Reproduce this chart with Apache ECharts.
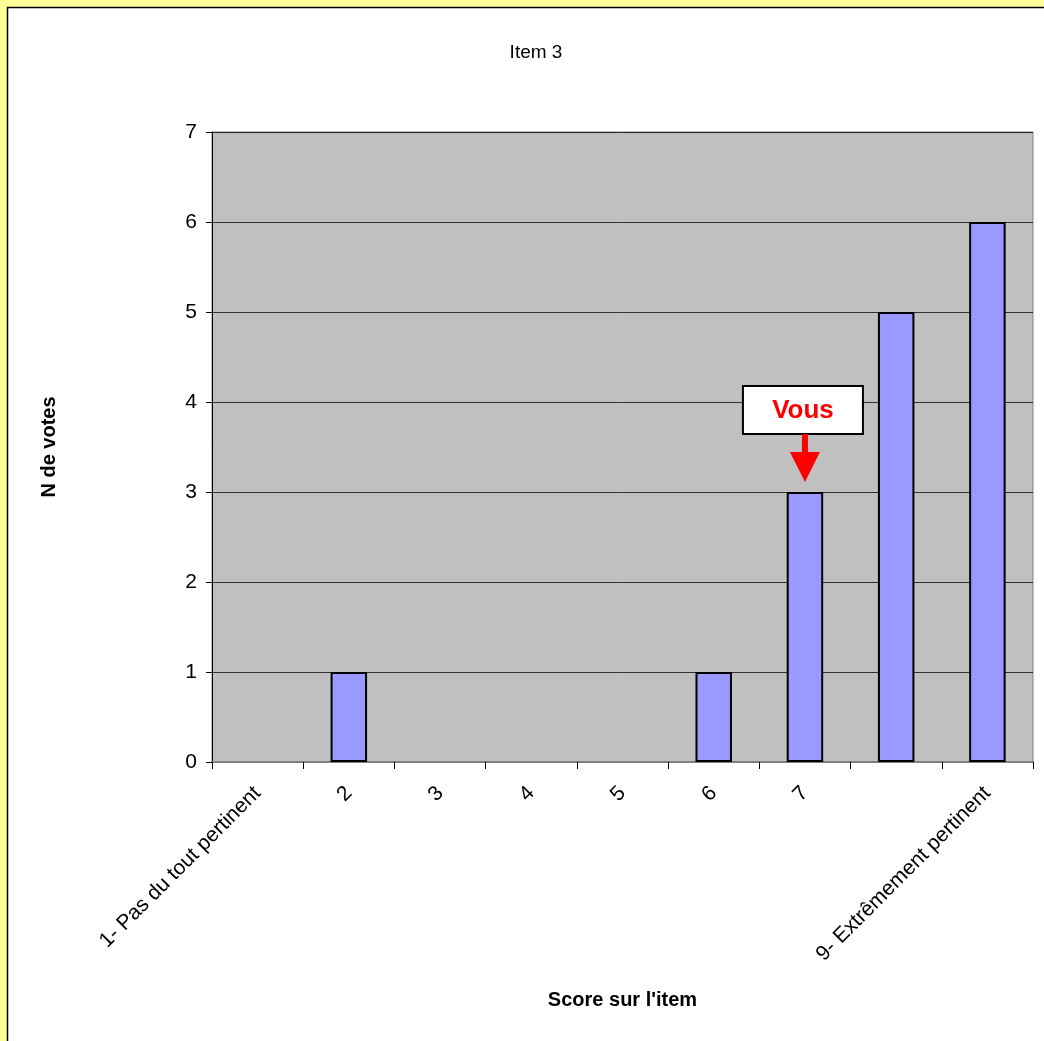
<!DOCTYPE html>
<html><head><meta charset="utf-8">
<script src="https://cdn.jsdelivr.net/npm/echarts@6/dist/echarts.min.js"></script>
<style>html,body{margin:0;padding:0;background:#FFFF99;}#c{width:1044px;height:1041px;}</style>
</head><body><div id="c"></div>
<script>
const categories = ["1- Pas du tout pertinent", "2", "3", "4", "5", "6", "7", "", "9- Extrêmement pertinent"];
const votes = [0, 1, 0, 0, 0, 1, 3, 5, 6];
const yTicks = [0, 1, 2, 3, 4, 5, 6, 7];
const youIndex = 6;
const chartTitle = "Item 3";
const yName = "N de votes";
const xName = "Score sur l'item";
const youLabel = "Vous";

const chart = echarts.init(document.getElementById('c'));
const font = '"Liberation Sans", Arial, sans-serif';
const frame = {
  type: 'rect', z: -10, silent: true,
  shape: { x: 7.5, y: 7.5, width: 1100, height: 1100 },
  style: { fill: '#ffffff', stroke: '#000000', lineWidth: 1.5 }
};
chart.setOption({
  backgroundColor: '#FFFF99',
  animation: false,
  textStyle: { fontFamily: font },
  graphic: [frame],
  title: {
    text: chartTitle, left: 531, top: 38, textAlign: 'center',
    textStyle: { fontFamily: font, fontSize: 19, fontWeight: 'normal', color: '#000' }
  },
  grid: { left: 212, right: 11, top: 132, bottom: 279, containLabel: false,
          show: true, backgroundColor: '#C0C0C0', borderColor: '#808080', borderWidth: 1 },
  xAxis: {
    type: 'category', data: categories,
    name: xName, nameLocation: 'middle', nameGap: 228,
    nameTextStyle: { fontFamily: font, fontSize: 20, fontWeight: 'bold', color: '#000' },
    axisLine: { lineStyle: { color: '#808080', width: 2 } },
    axisTick: { show: true, length: 7, lineStyle: { color: '#000' } },
    axisLabel: { rotate: 45, margin: 28, fontFamily: font, fontSize: 21, color: '#000', interval: 0 }
  },
  yAxis: {
    type: 'value', min: 0, max: 7, interval: 1,
    name: yName, nameLocation: 'middle', nameGap: 153, nameRotate: 90,
    nameTextStyle: { fontFamily: font, fontSize: 20, fontWeight: 'bold', color: '#000' },
    axisLine: { show: true, lineStyle: { color: '#000', width: 1 } },
    axisTick: { show: true, length: 6, lineStyle: { color: '#000' } },
    axisLabel: { margin: 15, fontFamily: font, fontSize: 21, color: '#000',
                 formatter: v => yTicks.includes(v) ? String(v) : '' },
    splitLine: { show: true, lineStyle: { color: '#000', width: 1, opacity: 0.75 } }
  },
  series: [{
    type: 'bar', barWidth: '40%',
    data: votes.map(v => v === 0 ? { value: v, itemStyle: { borderWidth: 0, opacity: 0 } } : v),
    itemStyle: { color: '#9999FF', borderColor: '#000', borderWidth: 2 }
  }]
});

const p = chart.convertToPixel({ gridIndex: 0 }, [youIndex, votes[youIndex]]);
const cx = p[0], ty = p[1];
chart.setOption({
  graphic: [frame, {
    type: 'rect', z: 100,
    shape: { x: cx - 62, y: ty - 106, width: 120, height: 48 },
    style: { fill: '#ffffff', stroke: '#000', lineWidth: 2 }
  }, {
    type: 'text', z: 101,
    style: { x: cx - 2, y: ty - 81, text: youLabel, align: 'center', verticalAlign: 'middle',
             fill: '#FF0000', font: 'bold 26px "Liberation Sans", Arial, sans-serif' }
  }, {
    type: 'rect', z: 100,
    shape: { x: cx - 3, y: ty - 58, width: 6, height: 20 },
    style: { fill: '#FF0000' }
  }, {
    type: 'polygon', z: 100,
    shape: { points: [[cx - 15, ty - 40], [cx + 15, ty - 40], [cx, ty - 10]] },
    style: { fill: '#FF0000' }
  }]
});
</script></body></html>
